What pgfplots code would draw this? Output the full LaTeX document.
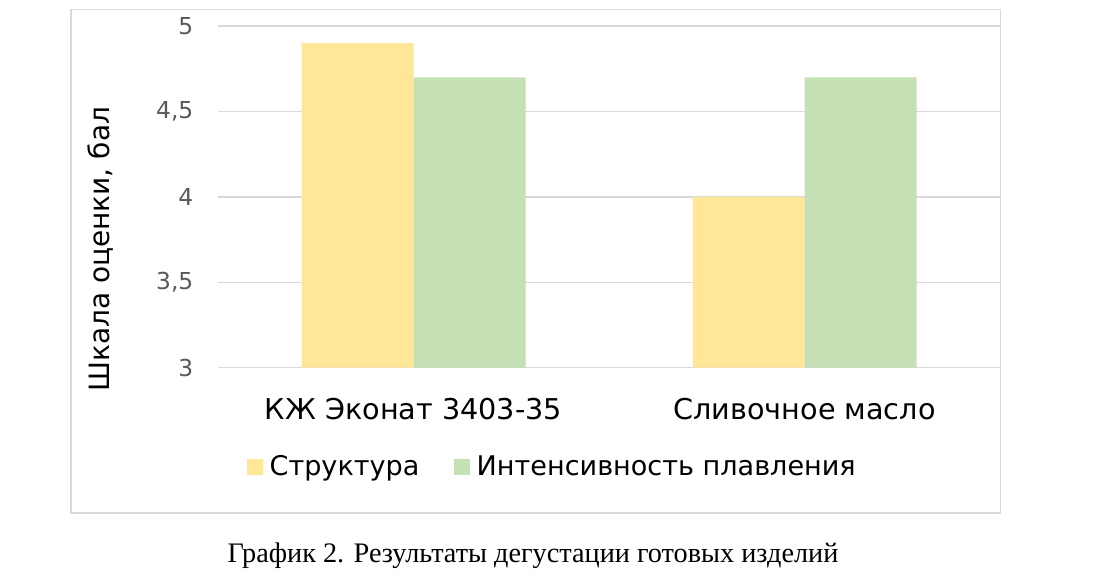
\documentclass[border=0pt]{standalone}
\usepackage{pgfplots}
\pgfplotsset{compat=1.18}
\usepackage{fontspec}
\setmainfont{DejaVu Sans}
\newfontfamily\capfont{Liberation Serif}
\definecolor{cyel}{HTML}{FFE699}
\definecolor{cgrn}{HTML}{C5E0B4}
\definecolor{cgrid}{HTML}{D9D9D9}
\definecolor{ctick}{HTML}{595959}
\begin{document}
\begin{tikzpicture}
\useasboundingbox (0,0) rectangle (822.75pt,441pt);
\draw[cgrid, line width=1.1pt] (53.25pt,56.25pt) rectangle (750.5pt,433.9pt);
\begin{axis}[
  at={(163.5pt,165.2pt)}, anchor=south west,
  scale only axis, width=586.5pt, height=256.3pt,
  xmin=-0.5, xmax=1.5, ymin=3, ymax=5,
  ytick={3,3.5,4,4.5,5},
  /pgf/number format/use comma, /pgf/number format/fixed,
  /pgf/number format/assume math mode=true,
  yticklabel style={font=\fontsize{17.5}{20}\selectfont, text=ctick, xshift=-15pt},
  xtick={0,1}, xticklabels={КЖ Эконат 3403-35, Сливочное масло},
  xticklabel style={font=\fontsize{21.5}{25}\selectfont, yshift=-19pt},
  major tick length=0pt,
  axis line style={draw=none},
  ymajorgrids, grid style={cgrid, line width=1pt},
  ybar=0pt, bar width=84pt,
  legend columns=2,
  legend style={at={(0.0367,-0.29)}, anchor=west, draw=none, fill=none, inner sep=0pt,
    font=\fontsize{20.3}{24}\selectfont, nodes={inner sep=1pt},
    /tikz/every even column/.append style={column sep=25pt}},
  legend image code/.code={\fill[#1,draw=none] (0pt,-6pt) rectangle (12pt,6pt); \path (0pt,0pt) -- (16pt,0pt);},
]
\addplot[fill=cyel, draw=none] coordinates {(0,4.9) (1,4.0)};
\addplot[fill=cgrn, draw=none] coordinates {(0,4.7) (1,4.7)};
\legend{Структура, Интенсивность плавления}
\end{axis}
\node[rotate=90, font=\fontsize{21}{25}\selectfont] at (75.5pt,254pt) {Шкала оценки, бал};
\node[font=\capfont\fontsize{21.2}{25}\selectfont] at (399.75pt,24.5pt) {График 2. Результаты дегустации готовых изделий};
\end{tikzpicture}
\end{document}
